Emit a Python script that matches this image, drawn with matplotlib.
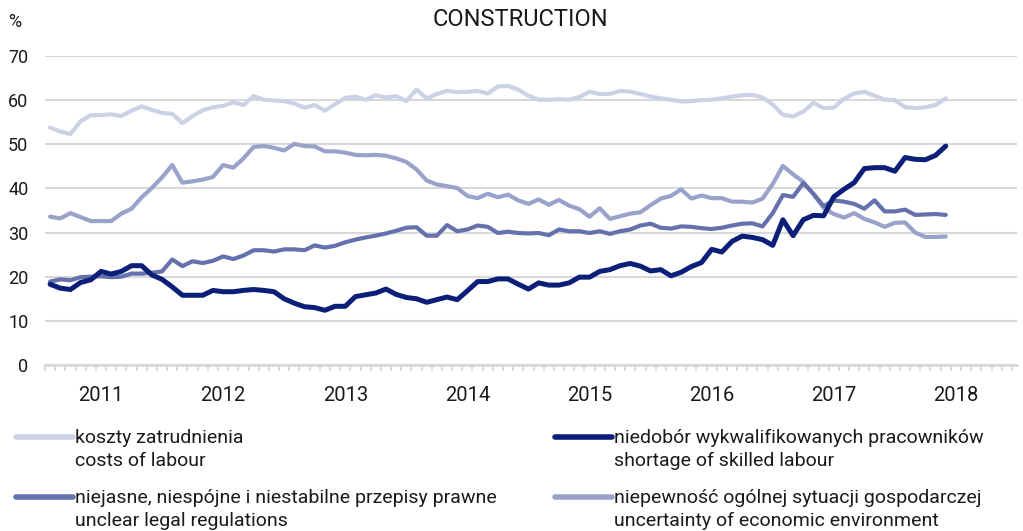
import pandas as pd
import matplotlib.pyplot as plt
from matplotlib.lines import Line2D

plt.rcParams['font.family'] = ['Roboto', 'DejaVu Sans']

# monthly survey data, Aug 2010 - Dec 2017 (% of firms)
months = pd.date_range("2010-08-01", "2017-12-01", freq="MS")

costs_of_labour = [
    53.8, 52.9, 52.3, 55.2, 56.6, 56.6, 56.8, 56.4, 57.6, 58.6, 57.8, 57.1,
    56.9, 54.8, 56.4, 57.7, 58.4, 58.7, 59.5, 58.9, 60.9, 60.1, 59.9, 59.8,
    59.2, 58.3, 58.9, 57.6, 59.1, 60.5, 60.8, 60.1, 61.1, 60.6, 60.9, 59.8,
    62.4, 60.4, 61.4, 62.1, 61.8, 61.9, 62.1, 61.5, 63.1, 63.2, 62.4, 61.0,
    60.1, 60.1, 60.2, 60.1, 60.7, 61.9, 61.4, 61.4, 62.1, 61.9, 61.4, 60.8,
    60.4, 60.1, 59.7, 59.8, 60.0, 60.1, 60.4, 60.8, 61.1, 61.2, 60.6, 59.0,
    56.7, 56.3, 57.4, 59.4, 58.2, 58.3, 60.3, 61.5, 61.9, 61.0, 60.1, 60.0,
    58.4, 58.2, 58.4, 58.9, 60.4]

uncertainty = [
    33.6, 33.2, 34.4, 33.5, 32.6, 32.6, 32.6, 34.3, 35.4, 38.0, 40.1, 42.5,
    45.3, 41.3, 41.6, 42.0, 42.6, 45.3, 44.7, 46.8, 49.4, 49.6, 49.2, 48.6,
    50.1, 49.6, 49.5, 48.4, 48.4, 48.1, 47.6, 47.5, 47.6, 47.4, 46.8, 46.0,
    44.3, 41.8, 40.9, 40.5, 40.1, 38.3, 37.8, 38.8, 38.0, 38.6, 37.3, 36.5,
    37.5, 36.3, 37.4, 36.1, 35.3, 33.6, 35.5, 33.1, 33.7, 34.3, 34.6, 36.2,
    37.7, 38.3, 39.8, 37.7, 38.4, 37.8, 37.8, 37.0, 37.0, 36.8, 37.7, 41.0,
    45.1, 43.2, 41.5, 38.7, 35.6, 34.2, 33.4, 34.4, 33.1, 32.3, 31.3, 32.2,
    32.3, 30.0, 29.0, 29.0, 29.1]

legal_regulations = [
    18.9, 19.4, 19.2, 19.9, 20.0, 20.1, 19.9, 20.0, 20.7, 20.7, 20.9, 21.2,
    23.9, 22.4, 23.5, 23.1, 23.6, 24.6, 24.0, 24.8, 26.0, 26.0, 25.7, 26.2,
    26.2, 26.0, 27.1, 26.6, 27.0, 27.8, 28.4, 28.9, 29.3, 29.8, 30.4, 31.1,
    31.2, 29.3, 29.3, 31.7, 30.3, 30.7, 31.6, 31.3, 29.9, 30.2, 29.9, 29.8,
    29.9, 29.4, 30.7, 30.3, 30.3, 29.9, 30.3, 29.7, 30.3, 30.7, 31.6, 32.0,
    31.1, 30.9, 31.4, 31.3, 31.0, 30.8, 31.1, 31.6, 32.0, 32.1, 31.4, 34.4,
    38.5, 38.1, 41.2, 38.8, 36.0, 37.3, 37.0, 36.5, 35.4, 37.3, 34.8, 34.8,
    35.2, 34.0, 34.1, 34.2, 34.0]

skilled_labour = [
    18.3, 17.4, 17.1, 18.7, 19.3, 21.2, 20.6, 21.2, 22.5, 22.5, 20.4, 19.4,
    17.7, 15.8, 15.8, 15.8, 16.9, 16.6, 16.6, 16.9, 17.1, 16.9, 16.6, 15.0,
    14.0, 13.2, 13.0, 12.4, 13.3, 13.3, 15.5, 15.9, 16.3, 17.2, 16.0, 15.3,
    15.0, 14.2, 14.8, 15.4, 14.8, 16.8, 18.9, 18.9, 19.5, 19.5, 18.3, 17.2,
    18.6, 18.1, 18.1, 18.6, 19.9, 19.9, 21.2, 21.6, 22.5, 23.0, 22.4, 21.3,
    21.6, 20.2, 21.0, 22.3, 23.2, 26.2, 25.6, 28.0, 29.2, 28.9, 28.4, 27.1,
    32.9, 29.3, 32.9, 33.9, 33.8, 38.1, 39.8, 41.3, 44.5, 44.7, 44.7, 43.9,
    47.0, 46.6, 46.5, 47.5, 49.6]

years = ["2011", "2012", "2013", "2014", "2015", "2016", "2017", "2018"]

labels_pl = [
    "koszty zatrudnienia",
    "niedobór wykwalifikowanych pracowników",
    "niejasne, niespójne i niestabilne przepisy prawne",
    "niepewność ogólnej sytuacji gospodarczej",
]
labels_en = [
    "costs of labour",
    "shortage of skilled labour",
    "unclear legal regulations",
    "uncertainty of economic environment",
]
colors = ["#ccd1e5", "#0b1e78", "#6571ac", "#99a2cb"]
text_color = "#1a1a1a"
grid_color = "#d9d9d9"

W, H = 1023, 531
fig = plt.figure(figsize=(W / 100, H / 100), dpi=100)
ax = fig.add_axes([45 / W, (H - 365) / H, (1017 - 45) / W, (365 - 56) / H])

x = list(range(len(months)))
ax.plot(x, costs_of_labour, color=colors[0], lw=3.0, solid_capstyle="round", zorder=3)
ax.plot(x, uncertainty, color=colors[3], lw=3.0, solid_capstyle="round", zorder=4)
ax.plot(x, legal_regulations, color=colors[2], lw=3.0, solid_capstyle="round", zorder=5)
ax.plot(x, skilled_labour, color=colors[1], lw=3.6, solid_capstyle="round", zorder=6)

ax.set_xlim(-0.5, 95)
ax.set_ylim(0, 70)

# y axis
ax.set_yticks(range(0, 71, 10))
ax.tick_params(axis="y", length=0, pad=12, labelsize=13, labelcolor=text_color)
ax.grid(axis="y", color=grid_color, lw=1.5, zorder=0)
ax.set_axisbelow(True)

# x axis: year labels at January, month ticks between points
jan_pos = [i for i, m in enumerate(months) if m.month == 1] + [len(months)]
ax.set_xticks(jan_pos)
ax.set_xticklabels(years)
ax.tick_params(axis="x", which="major", length=0, pad=15, labelsize=14.5, labelcolor=text_color)
ax.set_xticks([i - 0.5 for i in range(96)], minor=True)
ax.tick_params(axis="x", which="minor", length=4, width=1.3, color=grid_color, direction="out")

for side in ["top", "right", "left"]:
    ax.spines[side].set_visible(False)
ax.spines["bottom"].set_color(grid_color)
ax.spines["bottom"].set_linewidth(2)

fig.text(8 / W, 1 - 22 / H, "%", fontsize=13, color=text_color, va="center", ha="left")
fig.text(520 / W, 1 - 20 / H, "CONSTRUCTION", fontsize=17, color=text_color, va="center", ha="center")

# legend built by hand: handle next to first line of each two-line label
legend_pos = [(16, 437), (555, 437), (16, 497), (555, 497)]
for (lx, ly), pl, en, col in zip(legend_pos, labels_pl, labels_en, colors):
    fig.add_artist(Line2D([lx / W, (lx + 57) / W], [1 - ly / H, 1 - ly / H],
                          color=col, lw=4, solid_capstyle="round"))
    fig.text((lx + 59) / W, 1 - (ly + 1) / H, pl, fontsize=14, color=text_color,
             va="center", ha="left")
    fig.text((lx + 59) / W, 1 - (ly + 24) / H, en, fontsize=14, color=text_color,
             va="center", ha="left")

fig.savefig("out.png", dpi=100)
